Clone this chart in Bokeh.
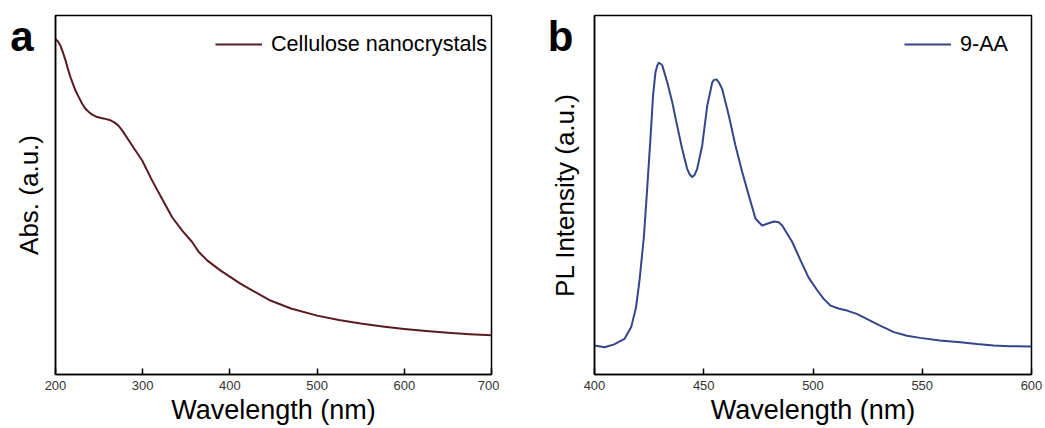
from bokeh.plotting import figure
from bokeh.models import Range1d, FixedTicker, Legend, LegendItem
from bokeh.layouts import row
from bokeh.embed import file_html
from bokeh.resources import INLINE

# ---- data ----
wavelength_a = [200, 202.7, 205.7, 208.4, 211.5, 214.1, 217.2, 219.9, 222.9, 226.8,
                230.6, 234.4, 238.2, 242, 247.8, 253.5, 257.3, 261.9, 266.9, 271.9,
                276.5, 287.9, 299.4, 310.9, 322.3, 333.8, 345.3, 356.7, 364.4, 373.9,
                389, 412, 425, 446.5, 470, 500, 525, 550, 575, 600, 625, 650, 675, 700]
abs_a = [0.935, 0.928, 0.916, 0.898, 0.875, 0.852, 0.828, 0.810, 0.791, 0.772,
         0.754, 0.740, 0.731, 0.724, 0.717, 0.714, 0.712, 0.709, 0.703, 0.694,
         0.680, 0.638, 0.596, 0.540, 0.489, 0.438, 0.401, 0.369, 0.341, 0.318,
         0.290, 0.253, 0.235, 0.206, 0.184, 0.164, 0.152, 0.142, 0.134, 0.127,
         0.121, 0.116, 0.112, 0.109]

wavelength_b = [400, 404.6, 409, 413.7, 416.8, 419, 420.6, 422.6, 424.1, 425.6, 426.8,
                427.9, 428.7, 429.4, 430.2, 431, 433.3, 435.6, 437.8, 440.1, 442.4,
                443.6, 444.7, 445.8, 447, 449.3, 451.6, 453.9, 454.6, 455.8, 456.9,
                458.4, 461.5, 464.5, 467.6, 470.6, 473.7, 476.7, 479, 482.1, 484.3,
                485.9, 490.5, 494.3, 498, 502, 505, 508, 512, 515.6, 520, 523, 530,
                537, 543, 549, 558, 567.5, 575, 582.7, 590, 600]
pl_b = [0.081, 0.076, 0.084, 0.099, 0.132, 0.187, 0.262, 0.383, 0.517, 0.657, 0.777,
        0.842, 0.860, 0.868, 0.866, 0.861, 0.814, 0.758, 0.694, 0.629, 0.573,
        0.557, 0.550, 0.556, 0.573, 0.638, 0.749, 0.814, 0.820, 0.822, 0.814,
        0.796, 0.721, 0.638, 0.564, 0.499, 0.434, 0.415, 0.420, 0.426, 0.424,
        0.415, 0.369, 0.318, 0.270, 0.234, 0.210, 0.192, 0.183, 0.178, 0.169, 0.160, 0.138,
        0.118, 0.108, 0.102, 0.095, 0.090, 0.085, 0.081, 0.079, 0.078]

ticks_a = [200, 300, 400, 500, 600, 700]
ticks_b = [400, 450, 500, 550, 600]

label_a = "Cellulose nanocrystals"
label_b = "9-AA"
color_a = "#5a1a22"
color_b = "#34458a"

FONT = "Liberation Sans"
LETTER_Y = 0.941


def make_panel(xs, ys, xr, ticks, ylabel, legend_text, color, letter,
               legend_x, border_left, frame_w, border_right,
               letter_standoff, ylab_standoff):
    p = figure(output_backend="svg", toolbar_location=None,
               frame_width=frame_w, frame_height=359,
               min_border_left=border_left, min_border_right=border_right,
               min_border_top=15, min_border_bottom=54,
               x_range=Range1d(*xr), y_range=Range1d(0, 1),
               background_fill_color="white", border_fill_color="white")
    r = p.line(xs, ys, line_color=color, line_width=2, line_join="round")

    p.outline_line_color = "black"
    p.outline_line_width = 1.5
    p.grid.visible = False

    xa = p.xaxis[0]
    xa.ticker = FixedTicker(ticks=ticks)
    xa.minor_tick_line_color = None
    xa.major_tick_in = 6
    xa.major_tick_out = 0
    xa.major_tick_line_width = 1.5
    xa.axis_line_width = 1.5
    xa.axis_line_color = "black"
    xa.major_label_text_font = FONT
    xa.major_label_text_font_size = "13px"
    xa.major_label_text_color = "#333333"
    xa.major_label_standoff = 6
    xa.axis_label = "Wavelength (nm)"
    xa.axis_label_text_font = FONT
    xa.axis_label_text_font_size = "27px"
    xa.axis_label_text_font_style = "normal"
    xa.axis_label_text_color = "black"
    xa.axis_label_standoff = 2

    # y axis: no ticks; its single tick label carries the panel letter
    ya = p.yaxis[0]
    ya.ticker = FixedTicker(ticks=[LETTER_Y])
    ya.major_label_overrides = {LETTER_Y: letter}
    ya.major_label_text_font = FONT
    ya.major_label_text_font_size = "42px"
    ya.major_label_text_font_style = "bold"
    ya.major_label_text_color = "black"
    ya.major_label_standoff = letter_standoff
    ya.minor_tick_line_color = None
    ya.major_tick_line_color = None
    ya.major_tick_in = 0
    ya.major_tick_out = 0
    ya.axis_line_width = 1.5
    ya.axis_line_color = "black"
    ya.axis_label = ylabel
    ya.axis_label_text_font = FONT
    ya.axis_label_text_font_size = "26px"
    ya.axis_label_text_font_style = "normal"
    ya.axis_label_text_color = "black"
    ya.axis_label_standoff = ylab_standoff

    legend = Legend(items=[LegendItem(label=legend_text, renderers=[r])],
                    location=(legend_x, 307),
                    border_line_color=None, background_fill_alpha=0,
                    margin=0, padding=5, glyph_width=47, glyph_height=46,
                    label_height=46, label_standoff=9,
                    label_text_font=FONT, label_text_font_size="21.6px",
                    label_text_color="black")
    p.add_layout(legend, "center")
    return p


pa = make_panel(wavelength_a, abs_a, (200, 700), ticks_a, "Abs. (a.u.)", label_a,
                color_a, "a", 160, 55, 436, 8, 22, -37)
pb = make_panel(wavelength_b, pl_b, (400, 600), ticks_b, "PL Intensity (a.u.)", label_b,
                color_b, "b", 310, 95, 437, 14, 21, -35)

layout = row(pa, pb)
open("out.html", "w").write(file_html(layout, INLINE))
